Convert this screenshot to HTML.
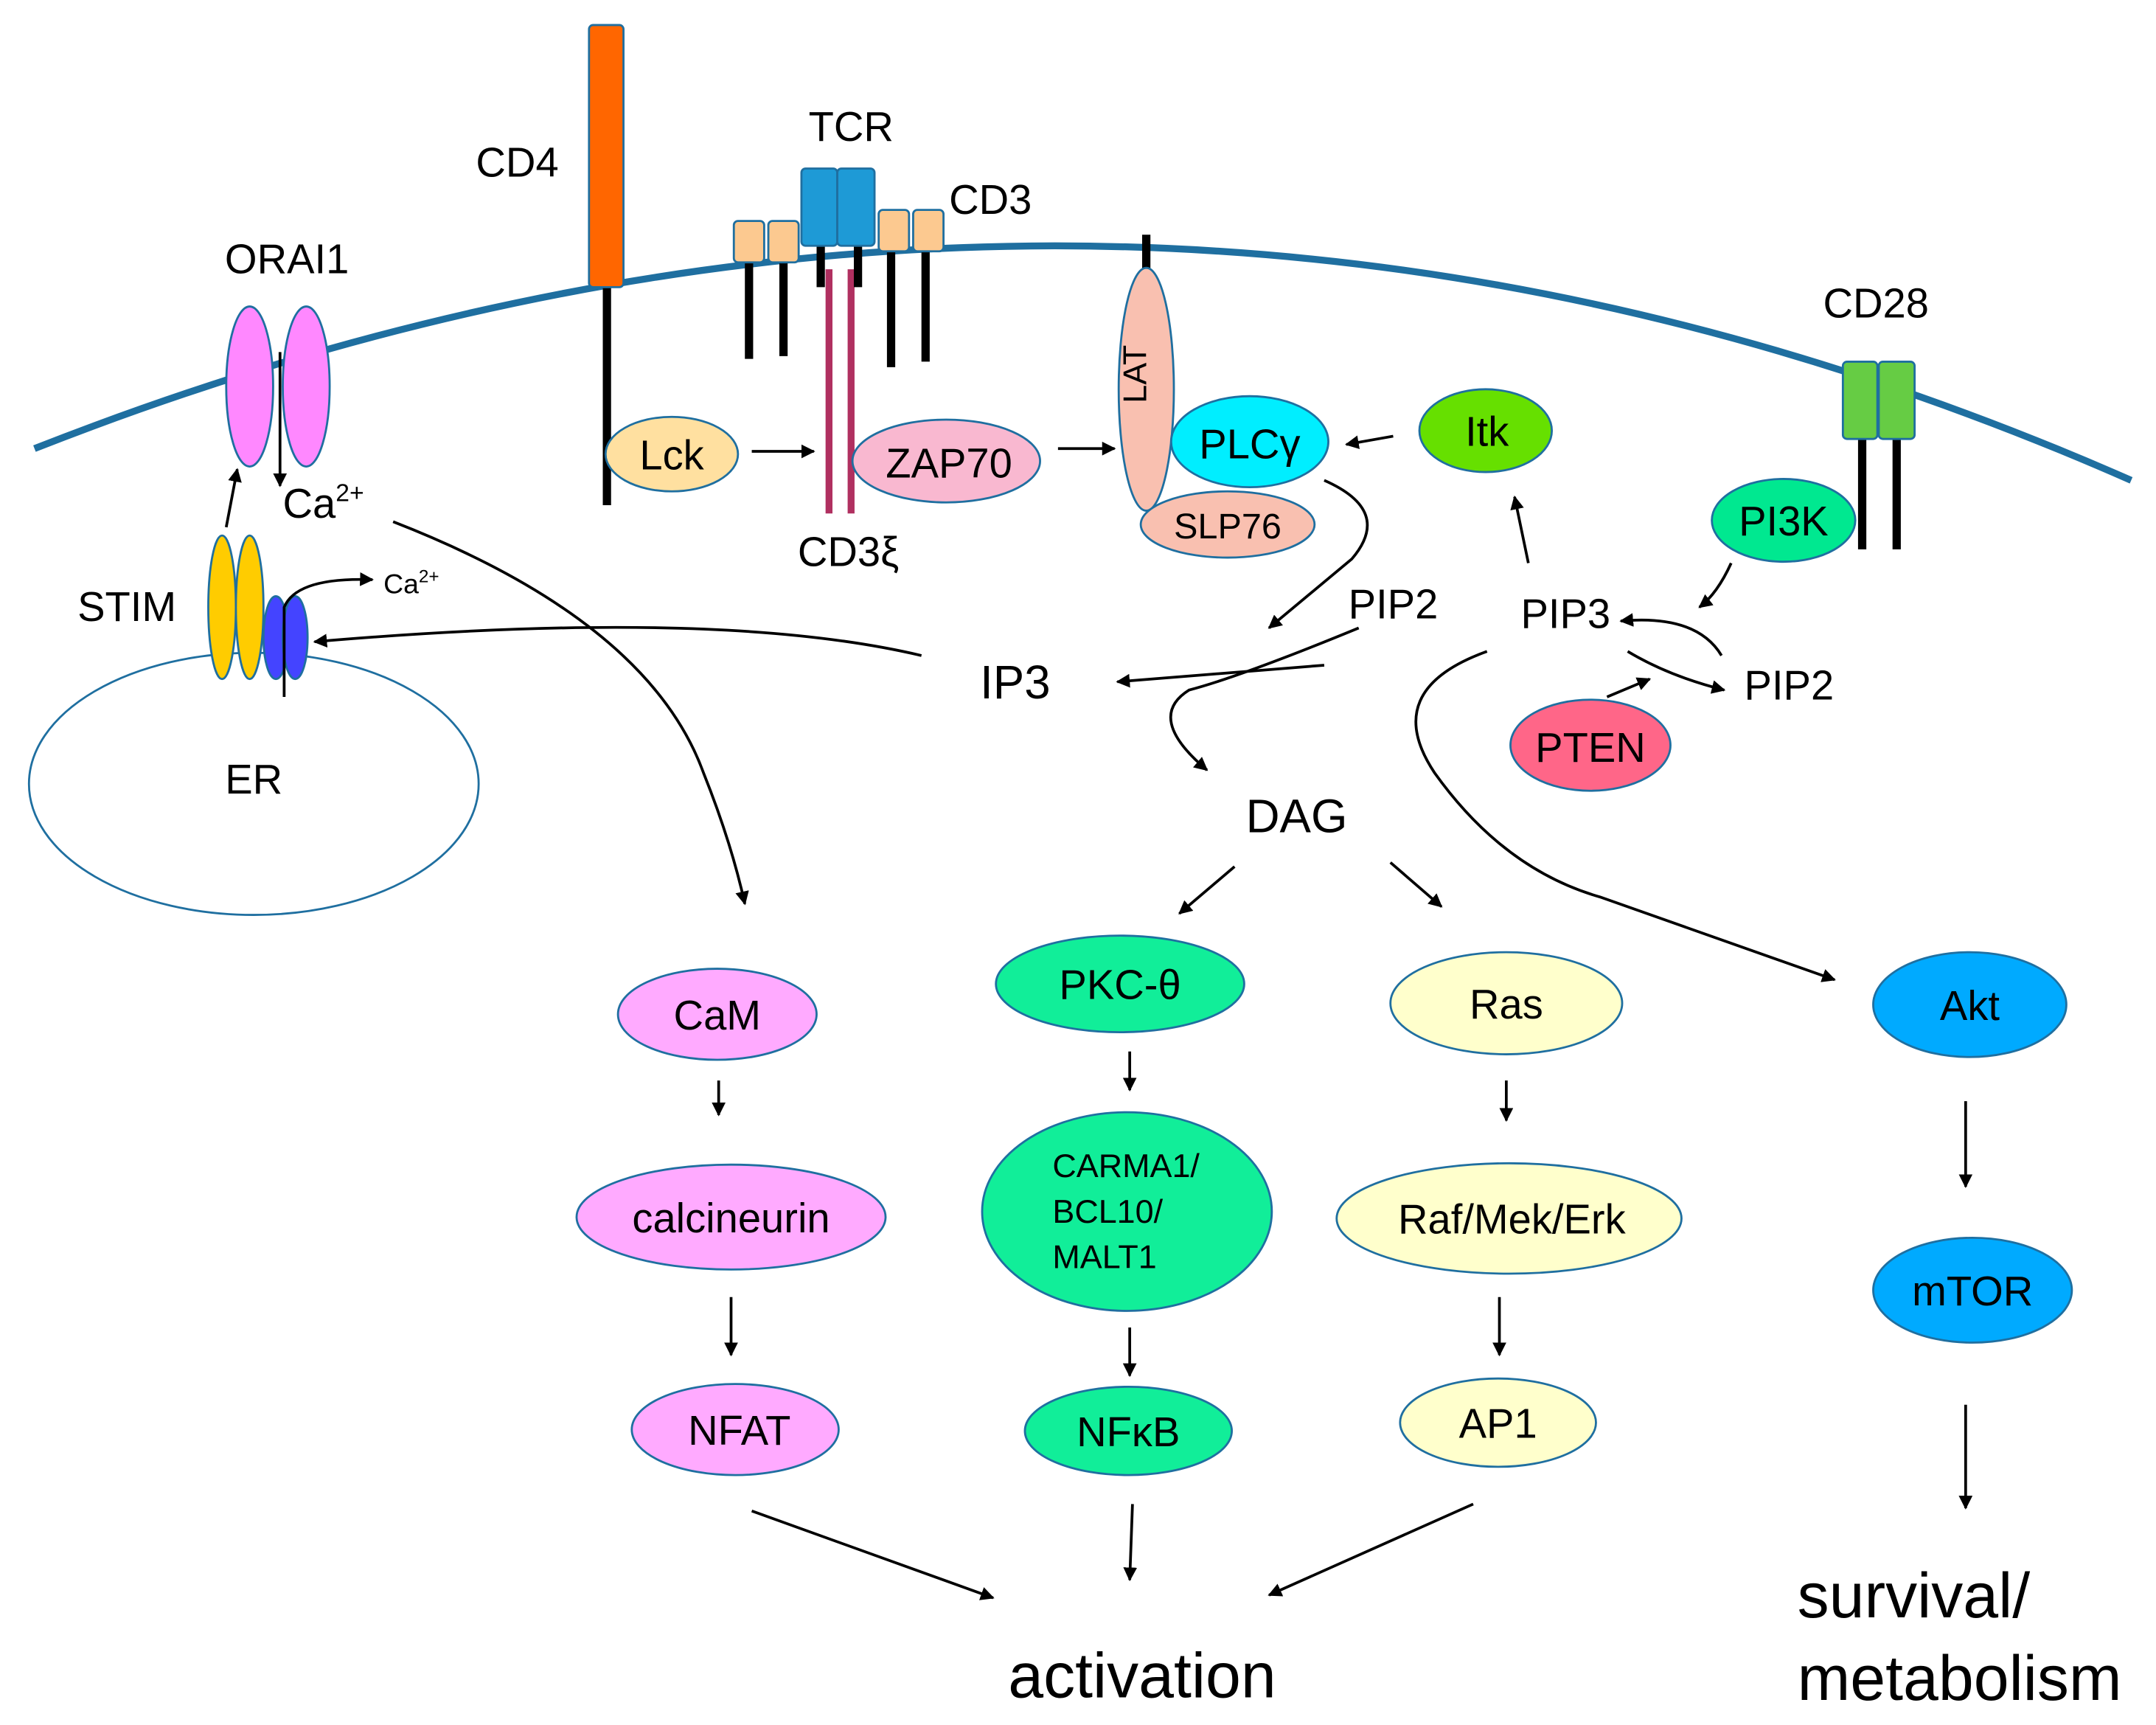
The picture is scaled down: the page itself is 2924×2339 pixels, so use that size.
<!DOCTYPE html>
<html><head><meta charset="utf-8"><style>
html,body{margin:0;padding:0;background:#fff}
svg{display:block}
text{font-family:"Liberation Sans",sans-serif;fill:#000}
</style></head><body>
<svg width="2924" height="2339" viewBox="0 0 1563 1250" xmlns="http://www.w3.org/2000/svg">
<defs>
<marker id="a" markerWidth="10" markerHeight="10" refX="9" refY="5" orient="auto" markerUnits="userSpaceOnUse" viewBox="0 0 10 10">
<path d="M0,0 L10,5 L0,10 z" fill="#000"/></marker>
</defs>
<g stroke="#1f6fa0" stroke-width="1.5">
<!-- membrane -->
<path d="M25,325 Q800,20 1545,348" fill="none" stroke-width="5"/>
<!-- CD4 -->
<line x1="440" y1="205" x2="440" y2="366" stroke="#000" stroke-width="6"/>
<rect x="427" y="18" width="25" height="190" rx="3" fill="#ff6600"/>
<!-- TCR/CD3 -->
<line x1="543" y1="188" x2="543" y2="260" stroke="#000" stroke-width="6"/>
<line x1="568" y1="188" x2="568" y2="258" stroke="#000" stroke-width="6"/>
<line x1="646" y1="180" x2="646" y2="266" stroke="#000" stroke-width="6"/>
<line x1="671" y1="180" x2="671" y2="262" stroke="#000" stroke-width="6"/>
<line x1="601" y1="195" x2="601" y2="372" stroke="#b03060" stroke-width="5"/>
<line x1="617" y1="195" x2="617" y2="372" stroke="#b03060" stroke-width="5"/>
<line x1="595" y1="176" x2="595" y2="208" stroke="#000" stroke-width="6"/>
<line x1="622" y1="176" x2="622" y2="208" stroke="#000" stroke-width="6"/>
<rect x="532" y="160" width="22" height="30" rx="3" fill="#fcc990"/>
<rect x="557" y="160" width="22" height="30" rx="3" fill="#fcc990"/>
<rect x="637" y="152" width="22" height="30" rx="3" fill="#fcc990"/>
<rect x="662" y="152" width="22" height="30" rx="3" fill="#fcc990"/>
<rect x="581" y="122" width="26" height="56" rx="3" fill="#1e9ad6"/>
<rect x="607" y="122" width="27" height="56" rx="3" fill="#1e9ad6"/>
<!-- LAT -->
<line x1="831" y1="170" x2="831" y2="196" stroke="#000" stroke-width="6"/>
<ellipse cx="831" cy="282" rx="20" ry="88" fill="#f9c0b0"/>
<ellipse cx="890" cy="380" rx="63" ry="24" fill="#f9c0b0"/>
<ellipse cx="906" cy="320" rx="57" ry="33" fill="#00eeff"/>
<ellipse cx="1077" cy="312" rx="48" ry="30" fill="#66e000"/>
<ellipse cx="487" cy="329" rx="48" ry="27" fill="#ffe0a0"/>
<ellipse cx="686" cy="334" rx="68" ry="30" fill="#f9b8d0"/>
<!-- ORAI1 -->
<ellipse cx="181" cy="280" rx="17" ry="58" fill="#ff88ff"/>
<ellipse cx="222" cy="280" rx="17" ry="58" fill="#ff88ff"/>
<!-- ER -->
<ellipse cx="184" cy="568" rx="163" ry="95" fill="#fff"/>
<ellipse cx="161" cy="440" rx="10" ry="52" fill="#ffcc00"/>
<ellipse cx="181" cy="440" rx="10" ry="52" fill="#ffcc00"/>
<ellipse cx="200" cy="462" rx="9" ry="30" fill="#4444ff"/>
<ellipse cx="214" cy="462" rx="9" ry="30" fill="#4444ff"/>
<!-- CD28 -->
<line x1="1350" y1="316" x2="1350" y2="398" stroke="#000" stroke-width="6"/>
<line x1="1375" y1="316" x2="1375" y2="398" stroke="#000" stroke-width="6"/>
<rect x="1336" y="262" width="25" height="56" rx="3" fill="#66cc44"/>
<rect x="1362" y="262" width="26" height="56" rx="3" fill="#66cc44"/>
<ellipse cx="1293" cy="377" rx="52" ry="30" fill="#00e890"/>
<ellipse cx="1153" cy="540" rx="58" ry="33" fill="#ff6688"/>
<!-- pathways -->
<ellipse cx="520" cy="735" rx="72" ry="33" fill="#ffaaff"/>
<ellipse cx="530" cy="882" rx="112" ry="38" fill="#ffaaff"/>
<ellipse cx="533" cy="1036" rx="75" ry="33" fill="#ffaaff"/>
<ellipse cx="812" cy="713" rx="90" ry="35" fill="#11ee99"/>
<ellipse cx="817" cy="878" rx="105" ry="72" fill="#11ee99"/>
<ellipse cx="818" cy="1037" rx="75" ry="32" fill="#11ee99"/>
<ellipse cx="1092" cy="727" rx="84" ry="37" fill="#ffffcc"/>
<ellipse cx="1094" cy="883" rx="125" ry="40" fill="#ffffcc"/>
<ellipse cx="1086" cy="1031" rx="71" ry="32" fill="#ffffcc"/>
<ellipse cx="1428" cy="728" rx="70" ry="38" fill="#00aaff"/>
<ellipse cx="1430" cy="935" rx="72" ry="38" fill="#00aaff"/>
</g>
<!-- arrows -->
<g stroke="#000" stroke-width="2" fill="none" marker-end="url(#a)">
<line x1="203" y1="255" x2="203" y2="352"/>
<line x1="164" y1="382" x2="172" y2="340"/>
<path d="M206,505 L206,440 Q215,418 270,420"/>
<path d="M285,378 Q470,450 510,560 Q530,610 540,655"/>
<path d="M668,475 Q520,440 228,465"/>
<line x1="545" y1="327" x2="590" y2="327"/>
<line x1="767" y1="325" x2="808" y2="325"/>
<line x1="1010" y1="316" x2="976" y2="322"/>
<path d="M960,348 Q1010,370 980,405 L920,455"/>
<line x1="960" y1="482" x2="810" y2="494"/>
<path d="M985,455 Q900,490 862,500 Q830,520 875,558"/>
<line x1="895" y1="628" x2="855" y2="662"/>
<line x1="1008" y1="625" x2="1045" y2="657"/>
<line x1="1108" y1="408" x2="1098" y2="360"/>
<path d="M1255,408 Q1245,430 1232,440"/>
<path d="M1248,475 Q1230,445 1175,450"/>
<path d="M1180,472 Q1210,490 1250,500"/>
<line x1="1165" y1="505" x2="1196" y2="492"/>
<path d="M1078,472 Q1000,500 1040,560 Q1090,630 1160,650 L1330,710"/>
<line x1="521" y1="783" x2="521" y2="808"/>
<line x1="530" y1="940" x2="530" y2="982"/>
<line x1="819" y1="762" x2="819" y2="790"/>
<line x1="819" y1="962" x2="819" y2="997"/>
<line x1="1092" y1="783" x2="1092" y2="812"/>
<line x1="1087" y1="940" x2="1087" y2="982"/>
<line x1="1425" y1="798" x2="1425" y2="860"/>
<line x1="1425" y1="1018" x2="1425" y2="1093"/>
<line x1="545" y1="1095" x2="720" y2="1158"/>
<line x1="821" y1="1090" x2="819" y2="1145"/>
<line x1="1068" y1="1090" x2="920" y2="1156"/>
</g>
<!-- labels -->
<g font-size="30" text-anchor="middle">
<text x="375" y="128">CD4</text>
<text x="617" y="102">TCR</text>
<text x="718" y="155">CD3</text>
<text x="615" y="410">CD3ξ</text>
<text x="208" y="198">ORAI1</text>
<text x="92" y="450">STIM</text>
<text x="184" y="575">ER</text>
<text x="1360" y="230">CD28</text>
<text x="487" y="340">Lck</text>
<text x="688" y="346">ZAP70</text>
<text x="906" y="332">PLCγ</text>
<text x="890" y="390" font-size="26">SLP76</text>
<text x="1078" y="323">Itk</text>
<text x="1293" y="388">PI3K</text>
<text x="1153" y="552">PTEN</text>
<text x="1010" y="448">PIP2</text>
<text x="1135" y="455">PIP3</text>
<text x="1297" y="507">PIP2</text>
<text x="736" y="506" font-size="34">IP3</text>
<text x="940" y="603" font-size="34">DAG</text>
<text x="520" y="746">CaM</text>
<text x="530" y="893">calcineurin</text>
<text x="536" y="1047">NFAT</text>
<text x="812" y="724">PKC-θ</text>
<text x="818" y="1048">NFκB</text>
<text x="1092" y="738">Ras</text>
<text x="1096" y="894">Raf/Mek/Erk</text>
<text x="1086" y="1042">AP1</text>
<text x="1428" y="739">Akt</text>
<text x="1430" y="946">mTOR</text>
<text x="828" y="1230" font-size="46">activation</text>
</g>
<g font-size="24">
<text x="763" y="853">CARMA1/</text>
<text x="763" y="886">BCL10/</text>
<text x="763" y="919">MALT1</text>
</g>
<text x="205" y="375" font-size="30">Ca<tspan font-size="18" dy="-12">2+</tspan></text>
<text x="278" y="430" font-size="20">Ca<tspan font-size="13" dy="-8">2+</tspan></text>
<text x="843" y="283" font-size="24" text-anchor="middle" transform="rotate(-90 831 283)">LAT</text>
<text x="1303" y="1172" font-size="46">survival/</text>
<text x="1303" y="1232" font-size="46">metabolism</text>
</svg>
</body></html>
